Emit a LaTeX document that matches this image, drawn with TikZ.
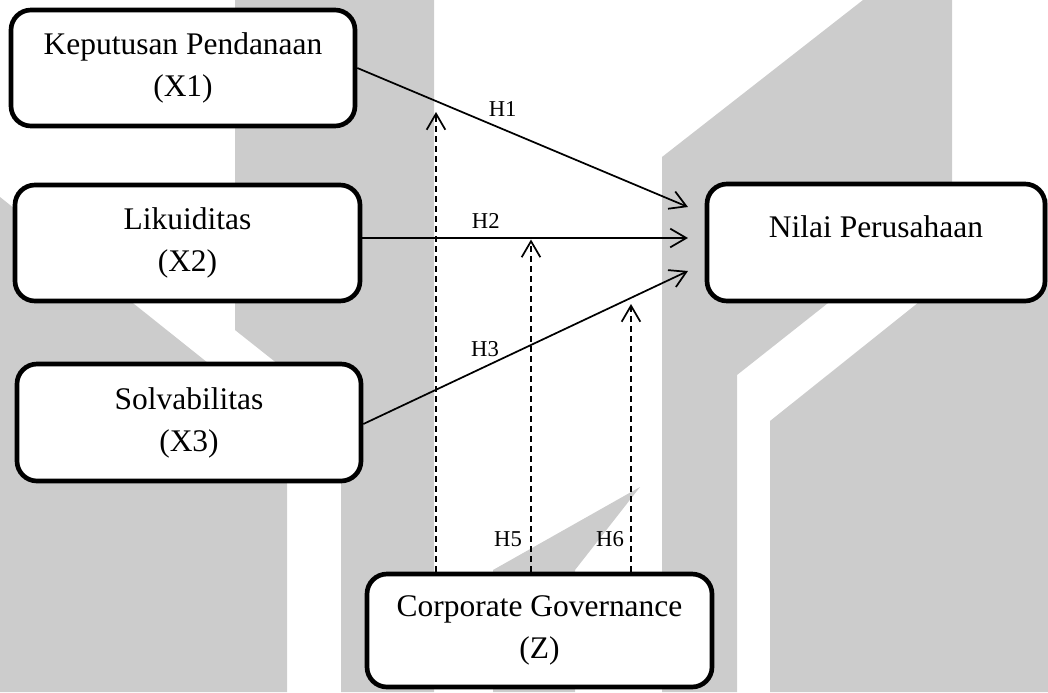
\documentclass[tikz,border=0pt]{standalone}
\usepackage{fontspec}
\setmainfont{Liberation Serif}
\usetikzlibrary{arrows.meta,calc}
\begin{document}
\begin{tikzpicture}[x=0.75pt,y=-0.75pt,
  wm/.style={fill=gray!40,draw=none},
  box/.style={draw,line width=3.5pt,rounded corners=15pt,fill=white,align=center,
    font=\fontsize{23.6}{31.5}\selectfont,inner sep=0pt},
  lab/.style={font=\fontsize{17}{20}\selectfont,anchor=base,inner sep=0pt},
  arr/.style={line width=1.3pt,-{Straight Barb[length=12pt,width=14pt]}},
  darr/.style={arr,dash pattern=on 4.5pt off 3pt}]
\useasboundingbox (0,0) rectangle (1048,692);
% watermark
\fill[wm] (0,197) -- (287,426) -- (287,692) -- (0,692) -- cycle;
\fill[wm] (235,0) -- (434,0) -- (434,692) -- (341,692) -- (341,414) -- (235,330) -- cycle;
\fill[wm] (662,157) -- (863,0) -- (952,0) -- (952,205) -- (737,375) -- (737,692) -- (662,692) -- cycle;
\fill[wm] (770,421) -- (1048,199) -- (1048,692) -- (770,692) -- cycle;
\fill[wm] (640,487) -- (493,570) -- (493,692) -- (575,692) -- (575,570) -- cycle;
% boxes
\node[box,minimum width=258pt,minimum height=87pt] (X1) at (183,68) {Keputusan Pendanaan\\(X1)};
\node[box,minimum width=258.75pt,minimum height=87pt] (X2) at (187.5,243) {Likuiditas\\(X2)};
\node[box,minimum width=258pt,minimum height=87.75pt] (X3) at (189,422.5) {Solvabilitas\\(X3)};
\node[box,minimum width=253.5pt,minimum height=87.75pt,text height=16pt,text depth=24.2pt] (Y) at (876,242.5) {Nilai Perusahaan};
\node[box,minimum width=258.75pt,minimum height=84.75pt] (Z) at (539.5,630.5) {Corporate Governance\\(Z)};
% direct arrows
\draw[arr] (X1.east) -- ($(Y.west)+(-16.7,-35.5)$);
\draw[arr] ($(X2.east)+(0,-5)$) -- ($(Y.west)+(-16.7,-4.5)$);
\draw[arr] ($(X3.east)+(0,1.5)$) -- ($(Y.west)+(-16.7,28.5)$);
% moderating arrows
\coordinate (m1) at (436,112);
\coordinate (m2) at (531,239.5);
\coordinate (m3) at (631,304);
\draw[darr] ($(Z.north)+(-103.5,0)$) -- (m1);
\draw[darr] ($(Z.north)+(-8.5,0)$) -- (m2);
\draw[darr] ($(Z.north)+(91.5,0)$) -- (m3);
% labels
\node[lab] (h1) at (502.7,116) {H1};
\node[lab] (h2) at (485.8,228) {H2};
\node[lab] (h3) at (485,356.7) {H3};
\node[lab] (h5) at (508,546) {H5};
\node[lab] (h6) at (610,546) {H6};
\end{tikzpicture}
\end{document}
